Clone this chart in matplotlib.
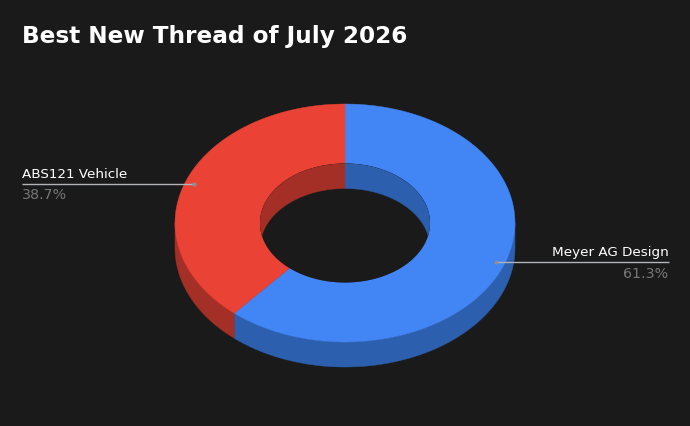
import numpy as np
import matplotlib
matplotlib.use("Agg")
import matplotlib.pyplot as plt
from matplotlib.patches import Polygon

title = "Best New Thread of July 2026"
labels = ["Meyer AG Design", "ABS121 Vehicle"]
shares = [61.3, 38.7]
top_colors = ["#4285f4", "#ea4335"]
side_colors = ["#2c5fae", "#a32f26"]

W, H = 690, 426
BG = "#1a1a1a"
cx, cy = 345.0, 223.0
rx, ry = 170.0, 119.0
irx, iry = 85.0, 59.5
depth = 25.0

fig = plt.figure(figsize=(W / 100, H / 100), dpi=100, facecolor=BG)
ax = fig.add_axes([0, 0, 1, 1])
ax.set_xlim(0, W)
ax.set_ylim(H, 0)
ax.axis("off")


def arc(a0, a1, a, b, dy=0.0, n=240):
    t = np.linspace(a0, a1, n)
    return np.column_stack([cx + a * np.sin(t), cy + dy - b * np.cos(t)])


fractions = np.array(shares) / sum(shares)
edges = np.concatenate([[0], np.cumsum(fractions)]) * 2 * np.pi

# outer walls (front half only is visible)
for c, a0, a1 in zip(side_colors, edges[:-1], edges[1:]):
    lo, hi = max(a0, np.pi / 2), min(a1, 3 * np.pi / 2)
    if lo < hi:
        poly = np.vstack([arc(lo, hi, rx, ry), arc(hi, lo, rx, ry, depth)])
        ax.add_patch(Polygon(poly, closed=True, fc=c, ec=c, lw=0.3, zorder=1))

# top faces
for c, a0, a1 in zip(top_colors, edges[:-1], edges[1:]):
    poly = np.vstack([arc(a0, a1, rx, ry), arc(a1, a0, irx, iry)])
    ax.add_patch(Polygon(poly, closed=True, fc=c, ec=c, lw=0.3, zorder=2))

# hole: background first, then the far inner wall, clipped to the hole
hole = Polygon(arc(0, 2 * np.pi, irx, iry), closed=True, fc=BG, ec="none", zorder=3)
ax.add_patch(hole)
for c, a0, a1 in zip(side_colors, edges[:-1], edges[1:]):
    for lo, hi in [(max(a0, 3 * np.pi / 2), a1), (a0, min(a1, np.pi / 2))]:
        if lo < hi:
            poly = np.vstack([arc(lo, hi, irx, iry), arc(hi, lo, irx, iry, depth)])
            wall = Polygon(poly, closed=True, fc=c, ec=c, lw=0.3, zorder=4)
            ax.add_patch(wall)
            wall.set_clip_path(hole)

# callouts
callout_r = 0.95
for lab, val, a0, a1 in zip(labels, shares, edges[:-1], edges[1:]):
    m = (a0 + a1) / 2
    px = cx + callout_r * rx * np.sin(m)
    py = cy - callout_r * ry * np.cos(m)
    right = np.sin(m) > 0
    end = 668.5 if right else 21.5
    ax.plot([px, end], [py, py], color="#b0b4b8", lw=1.0, zorder=6, solid_capstyle="butt")
    ax.plot([px], [py], "o", ms=3.0, color="#8a8f96", mew=0, zorder=7)
    ha = "right" if right else "left"
    ax.text(end, py - 3, lab, color="#ffffff", fontsize=9.7, ha=ha, va="bottom",
            family="DejaVu Sans", zorder=8)
    ax.text(end, py + 4.5, f"{val:.1f}%", color="#777777", fontsize=10.3, ha=ha, va="top",
            family="DejaVu Sans", zorder=8)

ax.text(21.5, 37, title, color="#ffffff", fontsize=16.7, fontweight="bold", ha="left",
        va="center", family="DejaVu Sans")

fig.savefig("out.png", dpi=100, facecolor=BG)
